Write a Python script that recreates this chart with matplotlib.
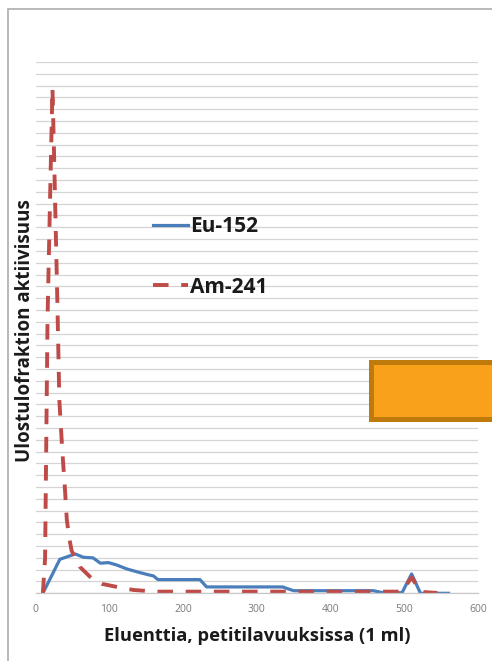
import matplotlib
matplotlib.use("Agg")
import matplotlib.pyplot as plt
from matplotlib.patches import Rectangle

plt.rcParams['font.family'] = ['Open Sans', 'DejaVu Sans']

# Eluted volume (ml) and measured activity of each fraction
eu_x = [10, 33, 54, 65, 78, 88, 99, 110, 124, 137, 151, 160, 166, 223, 232,
        335, 350, 458, 471, 497, 510, 522, 560]
eu_y = [0, 2.88, 3.33, 3.05, 3.0, 2.55, 2.6, 2.4, 2.06, 1.83, 1.6, 1.47, 1.16,
        1.16, 0.54, 0.54, 0.22, 0.22, 0.05, 0.05, 1.64, 0, 0]

am_x = [10, 13, 16.3, 19.7, 23, 25, 29.6, 32.3, 36.3, 40, 42.5, 46, 49, 53, 56,
        60, 76, 90, 115, 133, 164, 497, 510, 522, 545]
am_y = [0, 3, 23.2, 33.3, 42.8, 37.6, 24.8, 16.4, 12.1, 8.75, 6.2, 4.6, 3.6,
        3.1, 2.8, 2.25, 1.27, 0.8, 0.48, 0.28, 0.14, 0.14, 1.36, 0.12, 0.03]

series_names = ["Eu-152", "Am-241"]
x_ticks = [0, 100, 200, 300, 400, 500, 600]
x_title = "Eluenttia, petitilavuuksissa (1 ml)"
y_title = "Ulostulofraktion aktiivisuus"

W, H = 492, 661
fig = plt.figure(figsize=(W / 100, H / 100), dpi=100)
fig.patch.set_facecolor("white")

# plot area in pixels: x 35.5..478, y(top) 62..593.3
left, right, top, bottom = 35.5, 478.0, 62.0, 593.3
ax = fig.add_axes([left / W, 1 - bottom / H, (right - left) / W, (bottom - top) / H])
ax.set_facecolor("white")

ax.set_xlim(0, 600)
ax.set_ylim(0, 45)
ax.set_yticks(range(0, 46))
ax.yaxis.grid(True, color="#d4d4d4", linewidth=0.9)
ax.set_axisbelow(True)
ax.tick_params(axis="y", length=0, labelleft=False)
ax.set_xticks(x_ticks)
ax.tick_params(axis="x", length=0, pad=8, labelsize=7.5, labelcolor="#7a7a7a")
for s in ["left", "right", "top"]:
    ax.spines[s].set_visible(False)
ax.spines["bottom"].set_color("#c8c8c8")
ax.spines["bottom"].set_linewidth(0.9)

l_eu, = ax.plot(eu_x, eu_y, color="#4A7EBB", linewidth=2.3,
                solid_joinstyle="round", label=series_names[0])
l_am, = ax.plot(am_x, am_y, color="#BE4B48", linewidth=2.8,
                linestyle=(0, (4.0, 3.25)), label=series_names[1])

ax.set_xlabel(x_title, fontsize=13.2, fontweight="bold", color="#1a1a1a",
              va="center")
ax.xaxis.set_label_coords(0.5, (bottom - 636) / (bottom - top))
ax.set_ylabel(y_title, fontsize=13.5, fontweight="bold", color="#1a1a1a",
              va="center", ha="center")
ax.yaxis.set_label_coords((25 - left) / (right - left), (bottom - 331) / (bottom - top))

leg = ax.legend(handles=[l_eu, l_am], loc="upper left",
                bbox_to_anchor=(153 / W, 1 - 216 / H), bbox_transform=fig.transFigure,
                frameon=False, borderpad=0, borderaxespad=0,
                handlelength=1.7, handletextpad=0.1, labelspacing=1.9,
                prop={"size": 15, "weight": "bold"})
for t in leg.get_texts():
    t.set_color("#1a1a1a")

# outer chart frame
fig.add_artist(Rectangle((8 / W, -0.1), 1.2, 1 - 9 / H + 0.1,
                         transform=fig.transFigure, fill=False,
                         edgecolor="#a6a6a6", linewidth=1.1))

# orange box on the right edge
fig.add_artist(Rectangle((370.5 / W, 1 - 418.5 / H), 0.5, 57 / H,
                         transform=fig.transFigure, facecolor="#F9A11B",
                         edgecolor="#BF7A0C", linewidth=3.6))

fig.savefig("out.png", dpi=100)
